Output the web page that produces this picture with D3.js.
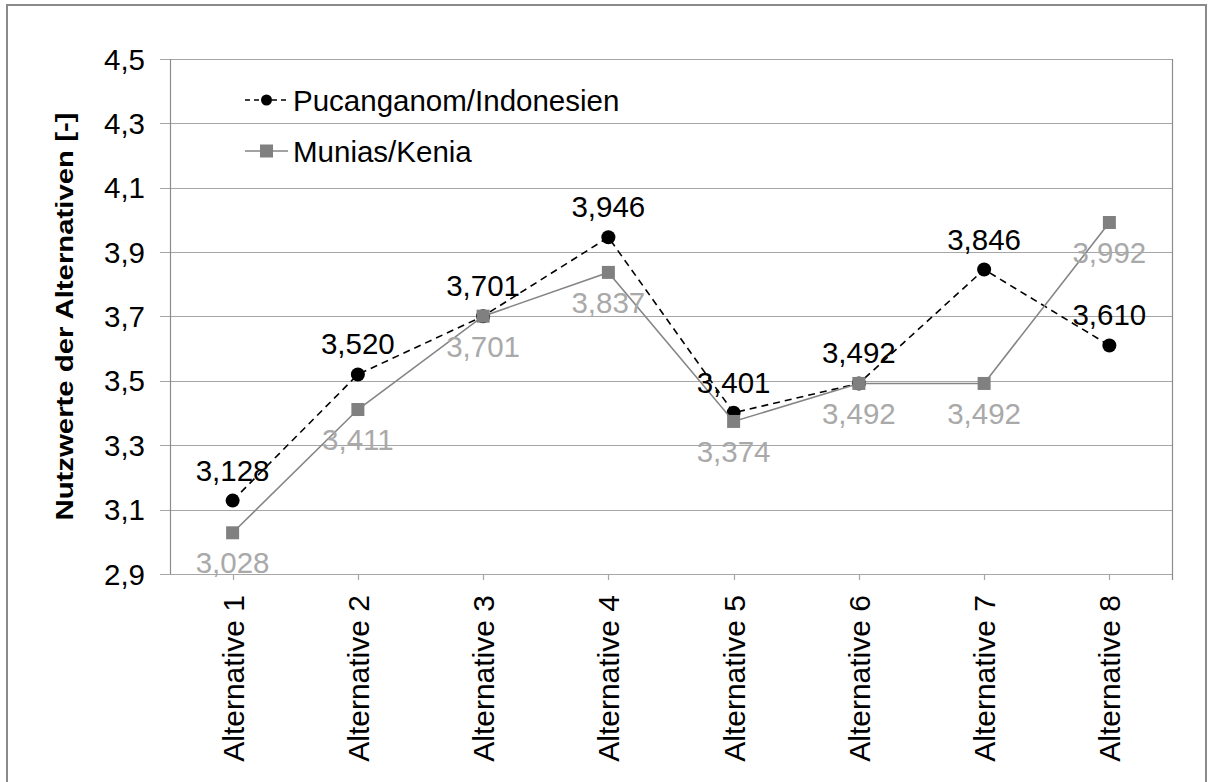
<!DOCTYPE html>
<html>
<head>
<meta charset="utf-8">
<script src="https://cdn.jsdelivr.net/npm/d3@7/dist/d3.min.js"></script>
<style>
  html, body { margin: 0; padding: 0; background: #fff; }
  svg { display: block; font-family: "Liberation Sans", Arial, sans-serif; }
</style>
</head>
<body>
<svg id="chart" width="1209" height="782"></svg>
<script>
// Categories and series values (utility values of the alternatives)
const categories = ["Alternative 1", "Alternative 2", "Alternative 3", "Alternative 4",
                    "Alternative 5", "Alternative 6", "Alternative 7", "Alternative 8"];
const pucanganom = [3.128, 3.520, 3.701, 3.946, 3.401, 3.492, 3.846, 3.610];
const munias     = [3.028, 3.411, 3.701, 3.837, 3.374, 3.492, 3.492, 3.992];
const yTicks     = [2.9, 3.1, 3.3, 3.5, 3.7, 3.9, 4.1, 4.3, 4.5];
const seriesNames = ["Pucanganom/Indonesien", "Munias/Kenia"];

const fmt3 = v => v.toFixed(3).replace(".", ",");
const fmt1 = v => v.toFixed(1).replace(".", ",");

const svg = d3.select("#chart");
const plot = { left: 170, right: 1172, top: 59, bottom: 574 };

const x = d3.scaleBand().domain(categories).range([plot.left, plot.right]);
const cx = c => x(c) + x.bandwidth() / 2;
const y = d3.scaleLinear().domain([2.9, 4.5]).range([plot.bottom, plot.top]);

const axisGrey = "#8c8c8c";
const gridGrey = "#a6a6a6";
const seriesGrey = "#858585";
const labelGrey = "#a9a9a9";
const fs = 29.5;

// outer frame
svg.append("rect")
  .attr("x", 7).attr("y", 5).attr("width", 1199).attr("height", 820)
  .attr("fill", "none").attr("stroke", "#8a8a8a").attr("stroke-width", 2);

// horizontal gridlines with outward ticks
svg.append("g").selectAll("line").data(yTicks).join("line")
  .attr("x1", plot.left - 10).attr("x2", plot.right)
  .attr("y1", d => Math.round(y(d)) + 0.5).attr("y2", d => Math.round(y(d)) + 0.5)
  .attr("stroke", gridGrey).attr("stroke-width", 1.2);

// left axis line and right border
svg.append("line").attr("x1", plot.left + 0.5).attr("x2", plot.left + 0.5)
  .attr("y1", plot.top).attr("y2", plot.bottom).attr("stroke", axisGrey).attr("stroke-width", 1.2);
svg.append("line").attr("x1", plot.right + 0.5).attr("x2", plot.right + 0.5)
  .attr("y1", plot.top).attr("y2", plot.bottom + 6).attr("stroke", axisGrey).attr("stroke-width", 1.2);

// bottom category ticks
svg.append("g").selectAll("line").data(categories).join("line")
  .attr("x1", d => Math.round(cx(d)) + 0.5).attr("x2", d => Math.round(cx(d)) + 0.5)
  .attr("y1", plot.bottom).attr("y2", plot.bottom + 6)
  .attr("stroke", gridGrey).attr("stroke-width", 1.2);

// y tick labels
svg.append("g").selectAll("text").data(yTicks).join("text")
  .attr("transform", d => `translate(145,${y(d) + 10.5})`)
  .attr("text-anchor", "end").attr("font-size", fs).attr("fill", "#000")
  .text(fmt1);

// category labels (rotated)
svg.append("g").selectAll("text").data(categories).join("text")
  .attr("transform", d => `translate(${cx(d) + 11},595) rotate(-90)`)
  .attr("text-anchor", "end").attr("font-size", 30).attr("fill", "#000")
  .text(d => d);

// y axis title
svg.append("text")
  .attr("transform", `translate(73,${(plot.top + plot.bottom) / 2}) rotate(-90)`)
  .attr("text-anchor", "middle").attr("font-size", 24).attr("font-weight", "bold")
  .attr("textLength", 408).attr("lengthAdjust", "spacingAndGlyphs")
  .text("Nutzwerte der Alternativen [-]");

const line = d3.line().x((d, i) => cx(categories[i])).y(d => y(d));

// Pucanganom series: dashed black line with round markers
svg.append("path").datum(pucanganom).attr("d", line)
  .attr("fill", "none").attr("stroke", "#000").attr("stroke-width", 1.6)
  .attr("stroke-dasharray", "7,5");
svg.append("g").selectAll("circle").data(pucanganom).join("circle")
  .attr("cx", (d, i) => cx(categories[i])).attr("cy", d => y(d)).attr("r", 7)
  .attr("fill", "#000");

// Munias series: solid grey line with square markers
svg.append("path").datum(munias).attr("d", line)
  .attr("fill", "none").attr("stroke", seriesGrey).attr("stroke-width", 1.6);
svg.append("g").selectAll("rect").data(munias).join("rect")
  .attr("x", (d, i) => cx(categories[i]) - 6.5).attr("y", d => y(d) - 6.5)
  .attr("width", 13).attr("height", 13).attr("fill", "#808080");

// value labels
svg.append("g").selectAll("text").data(pucanganom).join("text")
  .attr("x", (d, i) => cx(categories[i])).attr("y", d => y(d) - 20)
  .attr("text-anchor", "middle").attr("font-size", fs).attr("fill", "#000")
  .text(fmt3);
svg.append("g").selectAll("text").data(munias).join("text")
  .attr("x", (d, i) => cx(categories[i])).attr("y", d => y(d) + 40.5)
  .attr("text-anchor", "middle").attr("font-size", fs).attr("fill", labelGrey)
  .text(fmt3);

// legend
const legend = svg.append("g");
const legendRows = [100, 151];
legend.append("line").attr("x1", 245).attr("x2", 288).attr("y1", legendRows[0]).attr("y2", legendRows[0])
  .attr("stroke", "#000").attr("stroke-width", 1.6).attr("stroke-dasharray", "5,4");
legend.append("circle").attr("cx", 266.5).attr("cy", legendRows[0]).attr("r", 5.5).attr("fill", "#000");
legend.append("line").attr("x1", 245).attr("x2", 288).attr("y1", legendRows[1]).attr("y2", legendRows[1])
  .attr("stroke", seriesGrey).attr("stroke-width", 1.6);
legend.append("rect").attr("x", 260).attr("y", legendRows[1] - 6.5).attr("width", 13).attr("height", 13)
  .attr("fill", "#808080");
legend.selectAll("text").data(seriesNames).join("text")
  .attr("x", 293).attr("y", (d, i) => legendRows[i] + 10.5)
  .attr("font-size", fs).attr("fill", "#000").text(d => d);
</script>
</body>
</html>
